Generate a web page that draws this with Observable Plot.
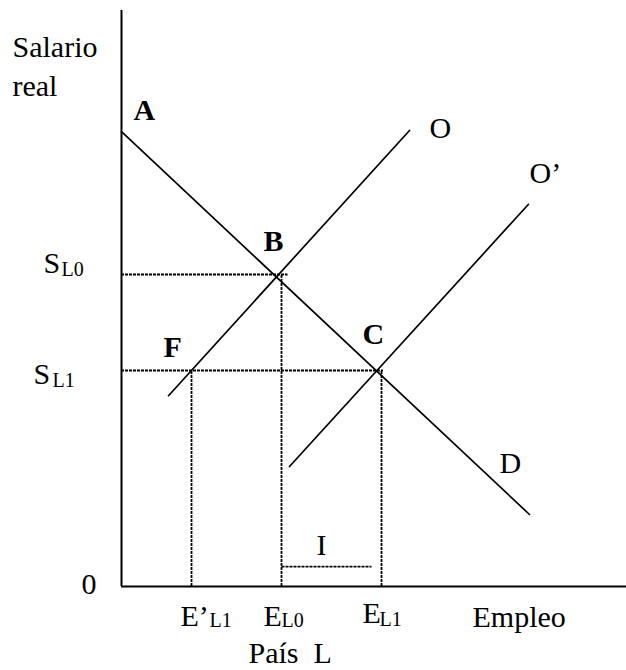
<!DOCTYPE html>
<html>
<head>
<meta charset="utf-8">
<script src="https://cdn.jsdelivr.net/npm/d3@7"></script>
<script src="https://cdn.jsdelivr.net/npm/@observablehq/plot@0.6"></script>
<style>
  html, body { margin: 0; padding: 0; background: #fff; }
</style>
</head>
<body>
<div id="chart"></div>
<script>
// Demand curve D (from A downwards)
const demandD = [{x: 0, y: 75.8}, {x: 81.6, y: 12}];
// Supply curve O
const supplyO = [{x: 9.4, y: 31.8}, {x: 57.6, y: 76}];
// Shifted supply curve O'
const supplyO2 = [{x: 33.6, y: 20}, {x: 81.4, y: 63.7}];

// Equilibrium wages (y) and employment levels (x)
const wageSL0 = 52;
const wageSL1 = 36;
const empEpL1 = 14;
const empEL0 = 32;
const empEL1 = 52;

// dashed guide segments
const hGuides = [
  {y: wageSL0, x1: 0, x2: 33.3},
  {y: wageSL1, x1: 0, x2: 52.4}
];
const vGuides = [
  {x: empEpL1, y1: 0, y2: wageSL1},
  {x: empEL0, y1: 0, y2: wageSL0},
  {x: empEL1, y1: 0, y2: wageSL1}
];
// immigration segment I
const immigI = [{y: 3.3, x1: 32.1, x2: 50.1}];

// axis extents
const xMax = 101;
const yMax = 96;

// labels (regular)
const labelsRegular = [
  {text: "Salario", x: -21.8, y: 88.2},
  {text: "real", x: -21.8, y: 81.8},
  {text: "O", x: 61.6, y: 74.8},
  {text: "O\u2019", x: 81.6, y: 67.3},
  {text: "D", x: 75.6, y: 19},
  {text: "I", x: 39, y: 5.2},
  {text: "S", x: -15.6, y: 52.2},
  {text: "S", x: -17.6, y: 33.8},
  {text: "0", x: -8, y: -1.2},
  {text: "E\u2019", x: 11.8, y: -6.5},
  {text: "E", x: 28.4, y: -6.5},
  {text: "E", x: 48.2, y: -6},
  {text: "Empleo", x: 70.2, y: -6.7},
  {text: "País\u00a0\u00a0L", x: 25.4, y: -12.7}
];
// subscripts
const labelsSub = [
  {text: "L0", x: -12, y: 51.7},
  {text: "L1", x: -13.8, y: 33.3},
  {text: "L1", x: 17.6, y: -6.8},
  {text: "L0", x: 32, y: -6.8},
  {text: "L1", x: 51.6, y: -6.5}
];
// bold point labels
const labelsBold = [
  {text: "A", x: 2.4, y: 77.7},
  {text: "B", x: 28.4, y: 56},
  {text: "C", x: 48.2, y: 40.5},
  {text: "F", x: 8.4, y: 38.2}
];

const font = "'Liberation Serif', 'Times New Roman', serif";
const dash = {stroke: "#000", strokeWidth: 1.8, strokeDasharray: "3,1"};

const chart = Plot.plot({
  width: 626,
  height: 670,
  margin: 0,
  x: {domain: [0, xMax], range: [121, 626], axis: null},
  y: {domain: [0, yMax], range: [586, 10], axis: null},
  style: {fontFamily: font, background: "#fff", color: "#000"},
  marks: [
    // dashed guides
    Plot.ruleY(hGuides, {y: "y", x1: "x1", x2: "x2", ...dash}),
    Plot.ruleX(vGuides, {x: "x", y1: "y1", y2: "y2", ...dash}),
    Plot.ruleY(immigI, {y: "y", x1: "x1", x2: "x2", ...dash}),
    // curves
    Plot.line(demandD, {x: "x", y: "y", stroke: "#000", strokeWidth: 1.7}),
    Plot.line(supplyO, {x: "x", y: "y", stroke: "#000", strokeWidth: 1.7}),
    Plot.line(supplyO2, {x: "x", y: "y", stroke: "#000", strokeWidth: 1.7}),
    // axes
    Plot.ruleX([0], {y1: 0, y2: yMax, stroke: "#000", strokeWidth: 2}),
    Plot.ruleY([0], {x1: 0, x2: xMax, stroke: "#000", strokeWidth: 2}),
    // labels
    Plot.text(labelsRegular, {x: "x", y: "y", text: "text", textAnchor: "start", lineAnchor: "bottom", fontSize: 30, fill: "#000", fontFamily: font}),
    Plot.text(labelsSub, {x: "x", y: "y", text: "text", textAnchor: "start", lineAnchor: "bottom", fontSize: 20, fill: "#000", fontFamily: font}),
    Plot.text(labelsBold, {x: "x", y: "y", text: "text", textAnchor: "start", lineAnchor: "bottom", fontSize: 30, fontWeight: "bold", fill: "#000", fontFamily: font})
  ]
});
document.getElementById("chart").appendChild(chart);
</script>
</body>
</html>
